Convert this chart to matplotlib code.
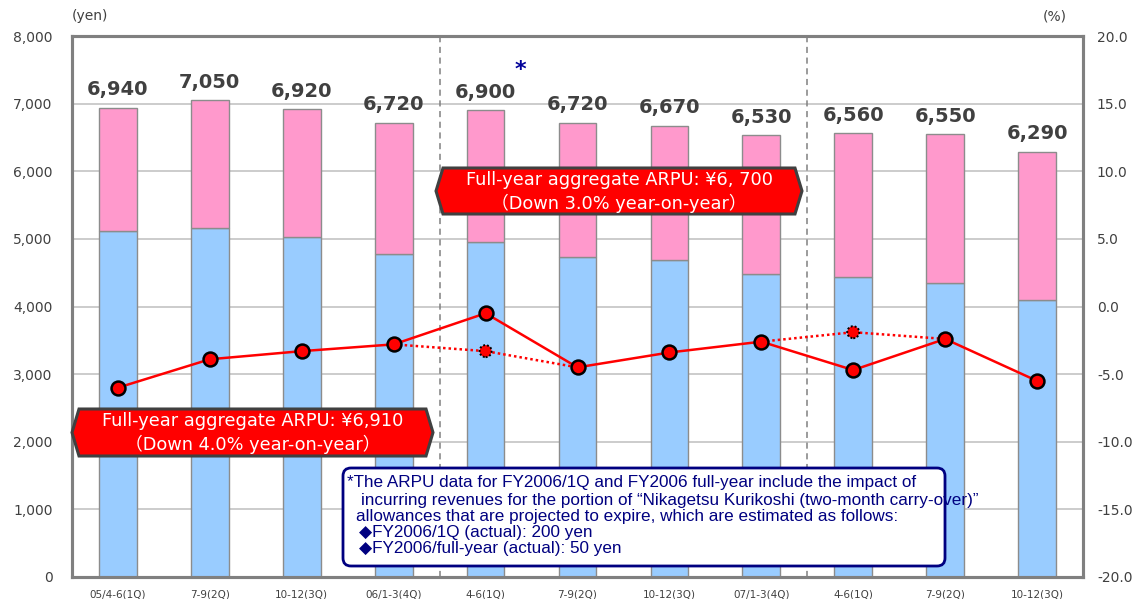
import numpy as np
import matplotlib.pyplot as plt
from matplotlib.patches import Polygon, FancyBboxPatch
from matplotlib.transforms import Affine2D

quarters = ["05/4-6(1Q)", "7-9(2Q)", "10-12(3Q)", "06/1-3(4Q)", "4-6(1Q)", "7-9(2Q)",
            "10-12(3Q)", "07/1-3(4Q)", "4-6(1Q)", "7-9(2Q)", "10-12(3Q)"]
arpu_total = [6940, 7050, 6920, 6720, 6900, 6720, 6670, 6530, 6560, 6550, 6290]
arpu_lower = [5120, 5160, 5030, 4780, 4950, 4730, 4690, 4480, 4440, 4350, 4100]
yoy = [-6.0, -3.9, -3.3, -2.8, -0.5, -4.5, -3.4, -2.6, -4.7, -2.4, -5.5]
# excluding the carry-over impact
yoy_adj = [np.nan, np.nan, np.nan, -2.8, -3.3, -4.5, np.nan, -2.6, -1.9, -2.4, np.nan]
adj_points = [4, 8]

x = np.arange(len(quarters))
arpu_upper = [t - b for t, b in zip(arpu_total, arpu_lower)]

W, H = 1137, 599
fig = plt.figure(figsize=(W / 100, H / 100), dpi=100)
# pixel coordinates, origin top-left
PX = Affine2D().scale(1 / 100, -1 / 100).translate(0, H / 100) + fig.dpi_scale_trans

L, R, T, B = 72, 1083, 36, 577
ax = fig.add_axes([L / W, 1 - B / H, (R - L) / W, (B - T) / H])
ax2 = ax.twinx()

ax.bar(x, arpu_lower, width=0.41, color="#99CCFF", edgecolor="#8C8C8C", lw=1)
ax.bar(x, arpu_upper, bottom=arpu_lower, width=0.41, color="#FF99CC", edgecolor="#8C8C8C", lw=1)
for xi, t in zip(x, arpu_total):
    ax.annotate(f"{t:,}", (xi, t), xytext=(0, 9), textcoords="offset points",
                ha="center", va="baseline", fontsize=14, fontweight="bold", color="#404040")

for xv in [3.5, 7.5]:
    ax.axvline(xv, color="#808080", lw=1.1, ls=(0, (4, 3)), zorder=1)

ax.set_xlim(-0.5, len(quarters) - 0.5)
ax.set_ylim(0, 8000)
ax.set_yticks(range(0, 8001, 1000))
ax.set_yticklabels([f"{v:,}" for v in range(0, 8001, 1000)])
ax.set_xticks(x)
ax.set_xticklabels(quarters)
ax.yaxis.grid(True, color="#C8C8C8", lw=1.3)
ax.set_axisbelow(True)
ax.tick_params(axis="y", length=0, pad=14, labelsize=10, labelcolor="#404040")
ax.tick_params(axis="x", length=0, pad=9, labelsize=7.5, labelcolor="#404040")

ax2.plot(x, yoy_adj, color="red", lw=1.8, ls=(0, (1, 1.2)), zorder=2)
ax2.plot(x, yoy, color="red", lw=1.8, marker="o", ms=10, mfc="red", mec="black", mew=1.8, zorder=3)
ax2.scatter([x[i] for i in adj_points], [yoy_adj[i] for i in adj_points], s=75, color="red",
            edgecolors="black", linewidths=1.4, linestyle=(0, (1, 1)), zorder=4)
ax2.set_ylim(-20, 20)
ax2.set_yticks(np.arange(-20, 20.1, 5))
ax2.set_yticklabels([f"{v:.1f}" for v in np.arange(-20, 20.1, 5)])
ax2.tick_params(axis="y", length=0, pad=10, labelsize=10, labelcolor="#404040")

for a in (ax, ax2):
    for s in a.spines.values():
        s.set_color("#808080")
        s.set_linewidth(2.2)

fig.text(72, 16, "(yen)", transform=PX, fontsize=10, color="#404040", va="center")
fig.text(1043, 16, "(%)", transform=PX, fontsize=10, color="#404040", va="center")
fig.text(520, 70, "*", transform=PX, fontsize=16, fontweight="bold", color="#000099",
         ha="center", va="center")

box_font = ["DejaVu Sans", "Noto Sans CJK JP"]


def callout(x0, x1, y0, y1, lines):
    ym = (y0 + y1) / 2
    d = 7
    pts = [(x0, ym), (x0 + d, y0), (x1 - d, y0), (x1, ym), (x1 - d, y1), (x0 + d, y1)]
    fig.add_artist(Polygon(pts, closed=True, transform=PX, facecolor="#FF0000",
                           edgecolor="#404040", lw=2.2, joinstyle="miter", zorder=5))
    xc = (x0 + x1) / 2
    fig.text(xc, ym - 11, lines[0], transform=PX, ha="center", va="center",
             fontsize=12.8, color="white", family=box_font, zorder=6)
    fig.text(xc, ym + 12, lines[1], transform=PX, ha="center", va="center",
             fontsize=12.8, color="white", family=box_font, zorder=6)


callout(72, 433, 409, 456, ["Full-year aggregate ARPU: ¥6,910", "（Down 4.0% year-on-year）"])
callout(436, 802, 168, 214, ["Full-year aggregate ARPU: ¥6, 700", "（Down 3.0% year-on-year）"])

fig.add_artist(FancyBboxPatch((343, 468), 602, 98, boxstyle="round,pad=0,rounding_size=8",
                              transform=PX, facecolor="white", edgecolor="#000080",
                              lw=2, zorder=5))
note = [
    (347, 483, "*The ARPU data for FY2006/1Q and FY2006 full-year include the impact of"),
    (361, 500, "incurring revenues for the portion of “Nikagetsu Kurikoshi (two-month carry-over)”"),
    (356, 517, "allowances that are projected to expire, which are estimated as follows:"),
    (359, 533, "◆FY2006/1Q (actual): 200 yen"),
    (359, 549, "◆FY2006/full-year (actual): 50 yen"),
]
for nx, ny, s in note:
    fig.text(nx, ny, s, transform=PX, va="center", ha="left", fontsize=12.3, color="#000080",
             family=["Liberation Sans", "DejaVu Sans"], zorder=6)

fig.savefig("out.png", dpi=100)
